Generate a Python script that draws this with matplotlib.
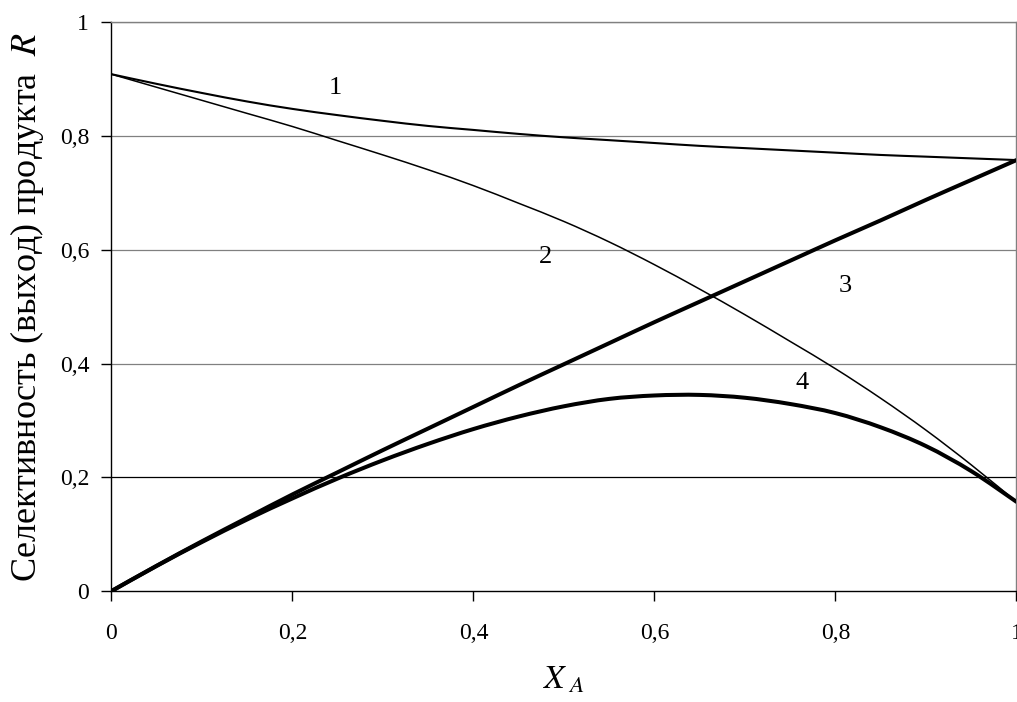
import matplotlib
matplotlib.use("Agg")
import matplotlib.pyplot as plt
from matplotlib.path import Path
from matplotlib.patches import PathPatch
import numpy as np

plt.rcParams['font.family'] = ['Liberation Serif', 'DejaVu Serif']
plt.rcParams['mathtext.fontset'] = 'stix'

# доля превращения X_A
x = [0, 0.05, 0.1, 0.15, 0.2, 0.25, 0.3, 0.35, 0.4, 0.45, 0.5,
     0.55, 0.6, 0.65, 0.7, 0.75, 0.8, 0.85, 0.9, 0.95, 1.0]

# 1, 2 - селективность; 3, 4 - выход
curve1 = [0.909, 0.892, 0.876, 0.861, 0.848, 0.837, 0.827, 0.818, 0.811, 0.804, 0.798,
          0.793, 0.788, 0.783, 0.779, 0.775, 0.771, 0.767, 0.764, 0.761, 0.758]
curve2 = [0.909, 0.886, 0.863, 0.840, 0.817, 0.792, 0.767, 0.741, 0.713, 0.682, 0.650,
          0.614, 0.574, 0.531, 0.486, 0.439, 0.391, 0.339, 0.283, 0.222, 0.157]
curve3 = [0.0, 0.0446, 0.0876, 0.129, 0.170, 0.209, 0.248, 0.286, 0.324, 0.362, 0.399,
          0.436, 0.473, 0.509, 0.545, 0.581, 0.617, 0.652, 0.688, 0.723, 0.758]
curve4 = [0.0, 0.0443, 0.0863, 0.126, 0.163, 0.198, 0.230, 0.259, 0.285, 0.307, 0.325,
          0.338, 0.344, 0.345, 0.340, 0.329, 0.313, 0.288, 0.255, 0.211, 0.157]

labels = ["1", "2", "3", "4"]
label_pos = [(0.247, 0.885), (0.480, 0.587), (0.811, 0.537), (0.763, 0.366)]

xticks = [0, 0.2, 0.4, 0.6, 0.8, 1]
xticklabels = ["0", "0,2", "0,4", "0,6", "0,8", "1"]
yticks = [0, 0.2, 0.4, 0.6, 0.8, 1]
yticklabels = ["0", "0,2", "0,4", "0,6", "0,8", "1"]


def smooth_path(xs, ys):
    # сглаженная линия как в Excel (Catmull-Rom -> Безье)
    p = np.column_stack([xs, ys])
    n = len(p)
    verts = [p[0]]
    codes = [Path.MOVETO]
    for i in range(n - 1):
        p0 = p[i - 1] if i > 0 else p[i]
        p1 = p[i]
        p2 = p[i + 1]
        p3 = p[i + 2] if i + 2 < n else p[i + 1]
        c1 = p1 + (p2 - p0) / 6.0
        c2 = p2 - (p3 - p1) / 6.0
        verts += [c1, c2, p2]
        codes += [Path.CURVE4] * 3
    return Path(verts, codes)


fig = plt.figure(figsize=(10.17, 7.02), dpi=100)
ax = fig.add_axes([0.1096, 0.158, 0.8899, 0.810])

# горизонтальная сетка
for yv in yticks[1:]:
    col = "black" if yv == 0.2 else "#808080"
    ax.axhline(yv, color=col, lw=0.9, zorder=1)

for ys, lw in [(curve1, 1.5), (curve2, 1.1), (curve3, 2.9), (curve4, 2.9)]:
    ax.add_patch(PathPatch(smooth_path(x, ys), facecolor="none", edgecolor="black",
                           lw=lw, zorder=3, capstyle="round"))

for lab, (lx, ly) in zip(labels, label_pos):
    ax.text(lx, ly, lab, fontsize=19, ha="center", va="center")

ax.set_xlim(0, 1)
ax.set_ylim(0, 1)
ax.set_xticks(xticks)
ax.set_xticklabels(xticklabels)
ax.set_yticks(yticks)
ax.set_yticklabels(yticklabels)
ax.tick_params(axis="both", direction="out", length=7, width=1, labelsize=17, color="black")
ax.tick_params(axis="x", pad=16)
ax.tick_params(axis="y", pad=9)

ax.spines["left"].set_color("black")
ax.spines["bottom"].set_color("black")
ax.spines["top"].set_color("#808080")
ax.spines["right"].set_color("#808080")
for s in ax.spines.values():
    s.set_linewidth(1)

ax.set_ylabel("Селективность (выход) продукта  $R$", fontsize=26, labelpad=10)
ax.set_xlabel("$X_{\\ A}$", fontsize=24, labelpad=15)

fig.savefig("out.png", dpi=100)
